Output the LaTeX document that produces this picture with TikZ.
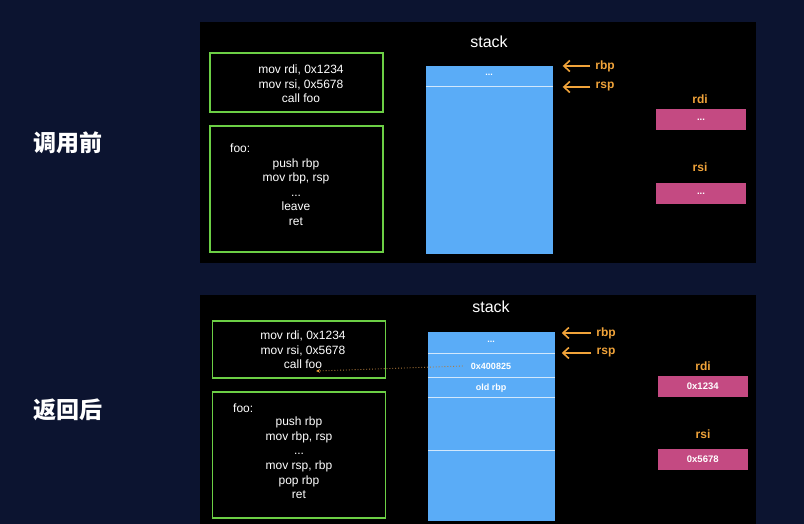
\documentclass[tikz,border=0pt]{standalone}
\usepackage{fontspec}
\setmainfont{Liberation Sans}
\newfontfamily\cjk{Noto Sans CJK SC}
\usetikzlibrary{arrows.meta,calc}
\definecolor{bgnavy}{HTML}{0C1430}
\definecolor{codegreen}{HTML}{6CCF45}
\definecolor{stackblue}{HTML}{5AACF7}
\definecolor{divline}{HTML}{D2E8FC}
\definecolor{regmag}{HTML}{C44A82}
\definecolor{ptrorange}{HTML}{F0A33A}
\definecolor{retbrown}{HTML}{B07A3C}
\begin{document}
\begin{tikzpicture}[x=1pt,y=-1pt,
  codebox/.style={draw=codegreen,line width=1.6pt,minimum width=173pt,inner sep=0pt},
  code/.style={text=white,font=\fontsize{12}{14.6}\selectfont,align=center,inner sep=0pt},
  title/.style={text=white,font=\fontsize{16}{18}\selectfont,inner sep=0pt},
  stackcol/.style={fill=stackblue,minimum width=126.5pt,inner sep=0pt},
  divider/.style={draw=divline,line width=0.8pt},
  celltext/.style={text=white,font=\bfseries\fontsize{9}{10}\selectfont,inner sep=0pt},
  ptr/.style={draw=ptrorange,line width=1.6pt,-{Straight Barb[length=6pt,width=11pt]}},
  ptrlabel/.style={text=ptrorange,font=\bfseries\fontsize{12}{14}\selectfont,inner sep=0pt},
  regbox/.style={fill=regmag,minimum width=90pt,minimum height=21pt,inner sep=0pt,text=white,font=\bfseries\fontsize{9.5}{11}\selectfont},
  reglabel/.style={text=ptrorange,font=\bfseries\fontsize{12}{14}\selectfont,inner sep=0pt},
  phase/.style={text=white,font=\cjk\bfseries\fontsize{23}{25}\selectfont,inner sep=0pt},
  retptr/.style={draw=retbrown,dotted,line width=0.9pt,-{Stealth[length=4pt,width=3.5pt,color=ptrorange]}}
]
\fill[bgnavy] (0,0) rectangle (804,524);
\useasboundingbox (0,0) rectangle (804,524);
\fill[black] (200,22) rectangle (756,263);
\fill[black] (200,295) rectangle (756,524);

% ---------- panel 1 ----------
\node[phase] (ph1) at (68,143) {调用前};
\node[title] (st1) at (489,42) {stack};
\node[codebox,minimum height=59pt] (b11) at (296.5,82.5) {};
\node[code] (c11) at (301,84) {mov rdi, 0x1234\\mov rsi, 0x5678\\call foo};
\node[codebox,minimum height=126pt] (b12) at (296.5,189) {};
\node[code,anchor=west] (f1) at (230,148) {foo:};
\node[code] (c12) at (296,192) {push rbp\\mov rbp, rsp\\...\\leave\\ret};

\node[stackcol,minimum height=188pt] (stack1) at (489.25,160) {};
\draw[divider] (426,86) -- (552.5,86);
\node[celltext] (s1a) at (489,75) {...};

\node[ptrlabel] (rbp1) at (605,66) {rbp};
\node[ptrlabel] (rsp1) at (605,87) {rsp};
\draw[ptr] ([xshift=-5pt]rbp1.west) -- ($(rbp1.west -| stack1.east)+(10,0)$);
\draw[ptr] ([xshift=-5pt]rsp1.west) -- ($(rsp1.west -| stack1.east)+(10,0)$);

\node[reglabel] (rdi1) at (700,99) {rdi};
\node[regbox] (rdiv1) at (701,119.5) {...};
\node[reglabel] (rsi1) at (700,167) {rsi};
\node[regbox] (rsiv1) at (701,193.5) {...};

% ---------- panel 2 ----------
\node[phase] (ph2) at (68,410) {返回后};
\node[title] (st2) at (491,307) {stack};
\node[codebox,minimum height=57pt] (b21) at (299,349.5) {};
\node[code] (c21) at (303,350) {mov rdi, 0x1234\\mov rsi, 0x5678\\call foo};
\node[codebox,minimum height=126pt] (b22) at (299,455) {};
\node[code,anchor=west] (f2) at (233,408) {foo:};
\node[code] (c22) at (299,458) {push rbp\\mov rbp, rsp\\...\\mov rsp, rbp\\pop rbp\\ret};

\node[stackcol,minimum height=189pt] (stack2) at (491.3,426.5) {};
\draw[divider] (428,353) -- (554.6,353);
\draw[divider] (428,377) -- (554.6,377);
\draw[divider] (428,397) -- (554.6,397);
\draw[divider] (428,450) -- (554.6,450);
\node[celltext] (s2a) at (491,342) {...};
\node[celltext] (s2b) at (491,366) {0x400825};
\node[celltext] (s2c) at (491,388) {old rbp};

\node[ptrlabel] (rbp2) at (606,333) {rbp};
\node[ptrlabel] (rsp2) at (606,353) {rsp};
\draw[ptr] ([xshift=-5pt]rbp2.west) -- ($(rbp2.west -| stack2.east)+(7,0)$);
\draw[ptr] ([xshift=-5pt]rsp2.west) -- ($(rsp2.west -| stack2.east)+(7,0)$);

\node[reglabel] (rdi2) at (703,366) {rdi};
\node[regbox] (rdiv2) at (702.75,386.5) {0x1234};
\node[reglabel] (rsi2) at (703,434) {rsi};
\node[regbox] (rsiv2) at (702.75,459.5) {0x5678};

\coordinate (retpt) at (316,371);
\draw[retptr] ([xshift=-8pt]s2b.west) -- (retpt);
\end{tikzpicture}
\end{document}
